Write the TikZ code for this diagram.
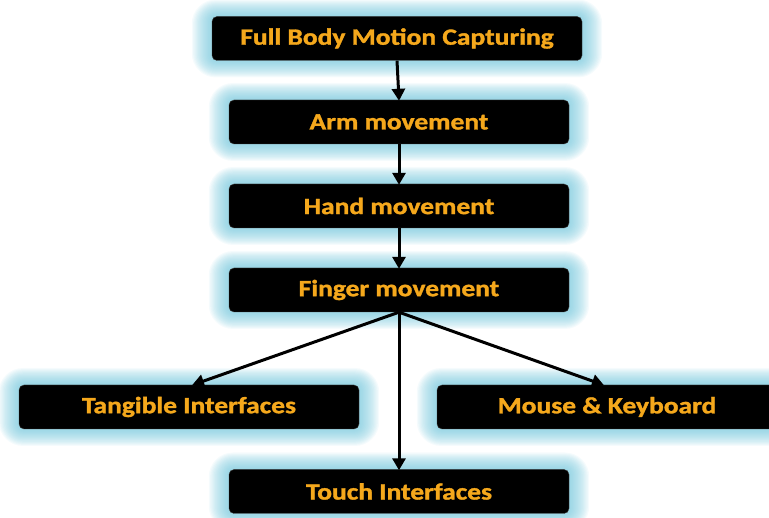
\documentclass[tikz,border=0pt]{standalone}
\usepackage{fontspec}
\setmainfont{Carlito}[BoldFeatures={FakeBold=1.3}]
\usetikzlibrary{arrows.meta,backgrounds,calc}
\definecolor{labelorange}{RGB}{245,168,28}
\definecolor{glowblue}{RGB}{110,196,218}
% labels are set a little wider than the font's natural width
\newcommand\widelabel[1]{\raisebox{-3pt}{\scalebox{1.18}[1]{#1}}}
\tikzset{
  stagebox/.style={draw=black!75, fill=black, rounded corners=5pt,
    minimum height=44pt, minimum width=340pt, inner sep=0pt,
    text=labelorange, font=\fontsize{23.3}{26}\selectfont\bfseries},
  flow/.style={draw=black, line width=3pt,
    -{Triangle[length=12pt,width=13pt]}, shorten >=-1pt}
}
\begin{document}
\begin{tikzpicture}[x=1pt,y=-1pt]
\useasboundingbox (0,0) rectangle (769,518);
\clip (0,0) rectangle (769,518);
\node[stagebox, minimum width=370pt] (full) at (397,38.5) {\widelabel{Full Body Motion Capturing}};
\node[stagebox] (arm)    at (399,122) {\widelabel{Arm movement}};
\node[stagebox] (hand)   at (399,206) {\widelabel{Hand movement}};
\node[stagebox] (finger) at (399,290) {\widelabel{Finger movement}};
\node[stagebox] (tang)   at (189,407) {\widelabel{Tangible Interfaces}};
\node[stagebox] (mouse)  at (607,407) {\widelabel{Mouse \& Keyboard}};
\node[stagebox] (touch)  at (399,491.5) {\widelabel{Touch Interfaces}};
% soft blue halo behind every box
\begin{scope}[on background layer]
  \foreach \n in {full,arm,hand,finger,tang,mouse,touch}{
    \foreach \i in {1,...,16}{
      \fill[glowblue, opacity=0.065, rounded corners={5pt+1.2*\i pt}]
        ($(\n.south west)+(-1.25*\i,1.05*\i)$) rectangle ($(\n.north east)+(1.25*\i,-1.05*\i)$);
    }
  }
\end{scope}
\draw[flow] (full.south) -- (arm.north);
\draw[flow] (arm.south) -- (hand.north);
\draw[flow] (hand.south) -- (finger.north);
\draw[flow] (finger.south) -- ($(tang.north)+(4,0)$);
\draw[flow] (finger.south) -- (touch.north);
\draw[flow] (finger.south) -- ($(mouse.north)+(-4,0)$);
\end{tikzpicture}
\end{document}
